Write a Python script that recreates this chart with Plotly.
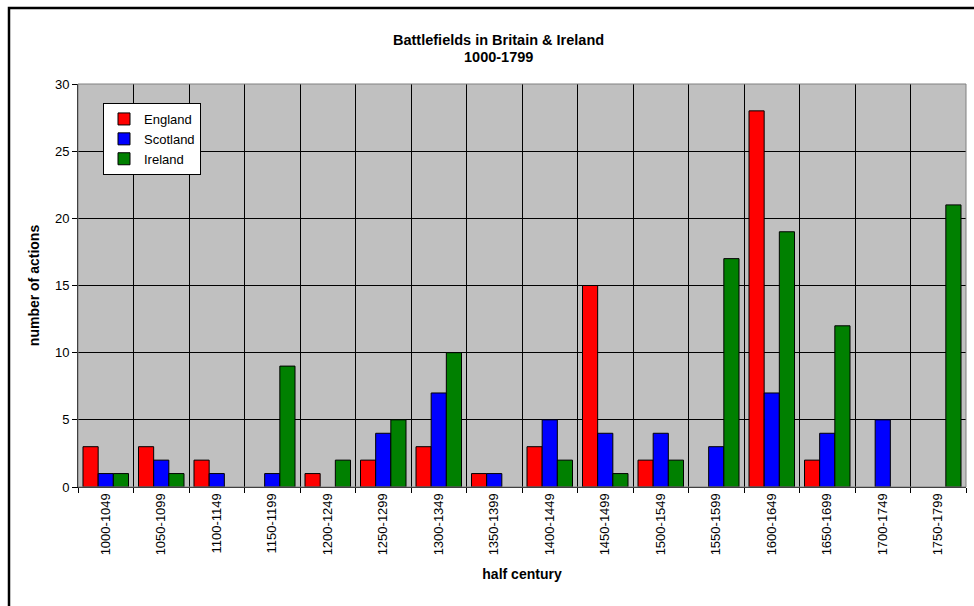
import plotly.graph_objects as go

periods = ["1000-1049", "1050-1099", "1100-1149", "1150-1199", "1200-1249", "1250-1299",
           "1300-1349", "1350-1399", "1400-1449", "1450-1499", "1500-1549", "1550-1599",
           "1600-1649", "1650-1699", "1700-1749", "1750-1799"]
england = [3, 3, 2, 0, 1, 2, 3, 1, 3, 15, 2, 0, 28, 2, 0, 0]
scotland = [1, 2, 1, 1, 0, 4, 7, 1, 5, 4, 4, 3, 7, 4, 5, 0]
ireland = [1, 1, 0, 9, 2, 5, 10, 0, 2, 1, 2, 17, 19, 12, 0, 21]
series_names = ["England", "Scotland", "Ireland"]
series_colors = ["#FF0000", "#0000FF", "#008000"]

FONT = "Liberation Sans, Arial, sans-serif"

fig = go.Figure()
for name, vals, col in zip(series_names, [england, scotland, ireland], series_colors):
    fig.add_trace(go.Bar(
        name=name, x=periods, y=[v if v else None for v in vals],
        marker=dict(color=col, line=dict(color="black", width=1)),
    ))

W, H = 974, 606
ml, mr, mt, mb = 78, 8, 84, 119
pw, ph = W - ml - mr, H - mt - mb

def px2x(px):
    return (px - ml) / pw

def py2y(py):
    return (H - mb - py) / ph

fig.update_layout(
    width=W, height=H,
    margin=dict(l=ml, r=mr, t=mt, b=mb, autoexpand=False),
    paper_bgcolor="white", plot_bgcolor="#C0C0C0",
    barmode="group", bargap=0.18, bargroupgap=0,
    font=dict(family=FONT, size=13, color="black"),
    showlegend=True,
    legend=dict(x=px2x(103), y=py2y(103), xanchor="left", yanchor="top",
                bgcolor="white", bordercolor="black", borderwidth=1,
                font=dict(family=FONT, size=13, color="black"),
                itemwidth=30, tracegroupgap=0),
    xaxis=dict(type="category", tickson="boundaries", showgrid=True,
               gridcolor="black", gridwidth=1,
               ticks="outside", ticklen=5, tickcolor="black",
               showline=True, linecolor="black", linewidth=1,
               tickangle=-90, tickfont=dict(family=FONT, size=13),
               title=dict(text="<b>half century</b>", font=dict(family=FONT, size=14),
                          standoff=14),
               automargin=False),
    yaxis=dict(range=[0, 30], dtick=5, showgrid=True, gridcolor="black", gridwidth=1,
               ticks="outside", ticklen=5, tickcolor="black",
               showline=True, linecolor="black", linewidth=1, zeroline=False,
               tickfont=dict(family=FONT, size=13),
               title=dict(text="<b>number of actions</b>", font=dict(family=FONT, size=14),
                          standoff=12),
               automargin=False),
    annotations=[
        dict(text="<b>Battlefields in Britain & Ireland</b>",
             x=px2x(498), y=py2y(40), xref="paper", yref="paper",
             xanchor="center", yanchor="middle", showarrow=False,
             font=dict(family=FONT, size=14.5, color="black")),
        dict(text="<b>1000-1799</b>",
             x=px2x(498), y=py2y(57), xref="paper", yref="paper",
             xanchor="center", yanchor="middle", showarrow=False,
             font=dict(family=FONT, size=14.5, color="black")),
    ],
    shapes=[
        dict(type="rect", xref="x domain", yref="y domain", x0=0, x1=1, y0=0, y1=1,
             line=dict(color="#808080", width=1), layer="above"),
        dict(type="rect", xref="paper", yref="paper",
             x0=px2x(9), x1=px2x(1000), y0=py2y(630), y1=py2y(8),
             line=dict(color="black", width=2.5)),
    ],
)

fig.write_html("out.html")
